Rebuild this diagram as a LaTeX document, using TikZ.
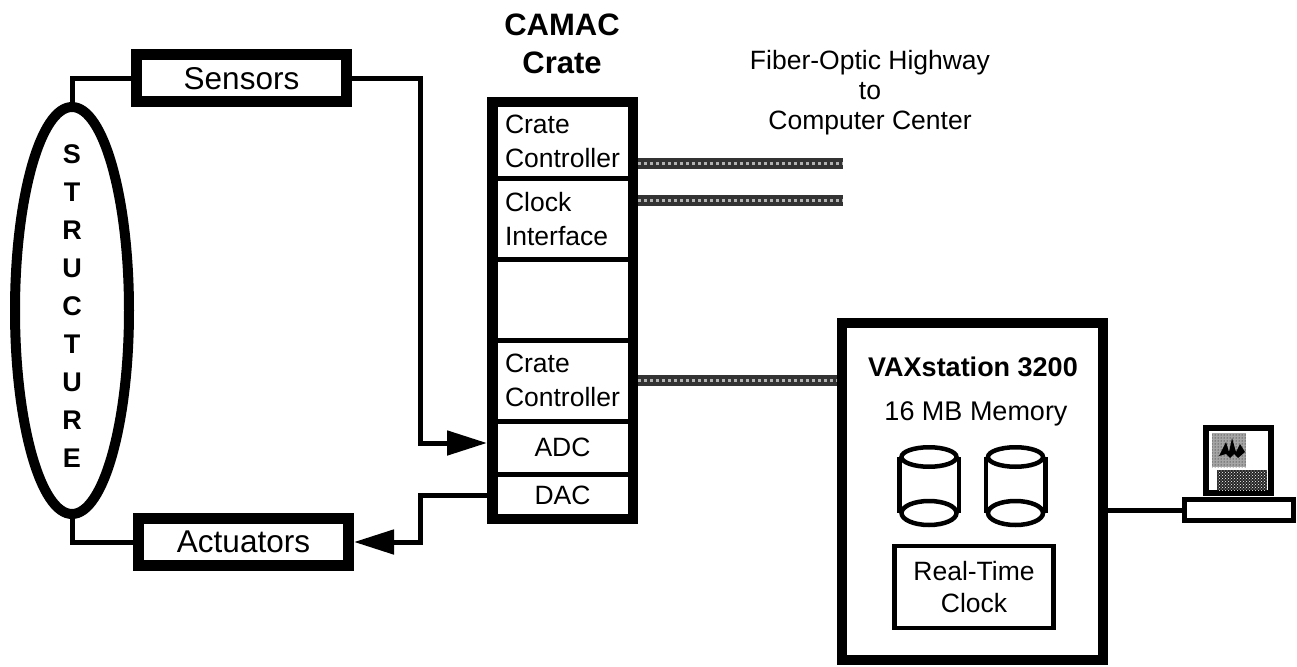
\documentclass[tikz,border=0pt]{standalone}
\usepackage{fontspec}
\setmainfont{Liberation Sans}
\usetikzlibrary{arrows.meta,positioning,shapes.geometric,patterns}

\begin{document}
\begin{tikzpicture}[
  x=1pt, y=-1pt,
  every node/.style={font=\fontsize{26.5}{34}\selectfont},
  thickbox/.style={rectangle, draw, line width=11pt, align=center, inner sep=0pt, font=\fontsize{31.5}{34}\selectfont},
  slot/.style={rectangle, draw, line width=5pt, minimum width=135pt, text width=115pt, inner xsep=10pt, inner ysep=0pt, align=left},
  wire/.style={line width=5pt},
  arr/.style={wire, -{Triangle[length=40pt,width=24pt]}},
  fiber/.style={line width=11pt, black!80, postaction={draw, black!30, line width=3pt, dash pattern=on 3pt off 3pt}},
  diskend/.style={ellipse, draw, line width=4.5pt, minimum width=55pt, inner sep=0pt},
]

\useasboundingbox (0,0) rectangle (1297,666);

% left side
\node[ellipse, draw, line width=10pt, minimum width=114pt, minimum height=407pt, inner sep=0pt] (structure) at (72, 310.5) {};
\node[font=\fontsize{27}{38}\selectfont\bfseries, align=center] (structuretext) at (72, 306.5) {S\\T\\R\\U\\C\\T\\U\\R\\E};
\node[thickbox, minimum width=210pt, minimum height=47pt] (sensors) at (241.5, 78.5) {Sensors};
\node[thickbox, minimum width=210pt, minimum height=47pt] (actuators) at (243.5, 542) {Actuators};

% crate
\node[font=\fontsize{31}{38}\selectfont\bfseries, align=center] (cratetitle) at (562, 44) {CAMAC\\Crate};
\node[rectangle, draw, line width=10pt, minimum width=141pt, minimum height=417pt, inner sep=0pt] (crate) at (562.5, 310.5) {};
\node[slot, minimum height=75pt] (ctrla) at (562.5, 141) {Crate\\Controller};
\node[slot, minimum height=81pt] (clock) at (562.5, 219) {Clock\\Interface};
\node[slot, minimum height=81pt] (blank) at (562.5, 300) {};
\node[slot, minimum height=81pt] (ctrlb) at (562.5, 380.5) {Crate\\Controller};
\node[slot, minimum height=53pt, align=center] (adc) at (562.5, 447.5) {ADC};
\node[slot, minimum height=42pt, align=center] (dac) at (562.5, 495) {DAC};

\node[align=center, font=\fontsize{26.5}{30}\selectfont] (fibertext) at (870, 93) {Fiber-Optic Highway\\to\\Computer Center};
\coordinate (fiberenda) at (843, 163);
\coordinate (fiberendb) at (843, 200);
\coordinate (adcin) at (487, 443);

% workstation
\node[rectangle, draw, line width=10pt, minimum width=261pt, minimum height=337pt, inner sep=0pt] (vax) at (972, 491.5) {};
\node[font=\fontsize{27}{32}\selectfont\bfseries] (vaxname) at (973, 367) {VAXstation 3200};
\node[font=\fontsize{27}{32}\selectfont] (memory) at (976, 414) {16 MB Memory};
\node[diskend, minimum height=19.5pt] (diskatop) at (929, 457) {};
\node[diskend, minimum height=24pt] (diskabot) at (929, 513) {};
\node[diskend, minimum height=19.5pt] (diskbtop) at (1015.5, 457) {};
\node[diskend, minimum height=24pt] (diskbbot) at (1015.5, 513) {};
\draw[line width=4.5pt] (diskatop.west) -- (diskabot.west);
\draw[line width=4.5pt] (diskatop.east) -- (diskabot.east);
\draw[line width=4.5pt] (diskbtop.west) -- (diskbbot.west);
\draw[line width=4.5pt] (diskbtop.east) -- (diskbbot.east);
\node[rectangle, draw, line width=4.5pt, minimum width=159pt, minimum height=82pt, inner sep=0pt, align=center, font=\fontsize{26.5}{32}\selectfont] (rtclock) at (974, 587) {Real-Time\\Clock};

% terminal
\node[rectangle, draw, line width=6pt, minimum width=65pt, minimum height=65pt, inner sep=0pt] (monitor) at (1238, 460) {};
\node[rectangle, draw, line width=5pt, minimum width=109pt, minimum height=21pt, inner sep=0pt] (keyboard) at (1239, 510) {};
\fill[black!35] (1212,433) rectangle (1246,467);
\fill[pattern=dots] (1212,433) rectangle (1246,467);
\fill[black!85] (1217,470) rectangle (1267,490);
\fill[pattern=crosshatch dots, pattern color=white] (1217,470) rectangle (1267,490);
\fill[black] (1219,456) -- (1226,442) -- (1229,452) -- (1232,438) -- (1236,452) -- (1240,444) -- (1245,452) -- (1238,458) -- (1234,454) -- (1230,458) -- (1226,454) -- cycle;

% connectors
\draw[wire] (structure.north) |- (sensors.west);
\draw[wire] (structure.south) |- (actuators.west);
\draw[arr] (sensors.east) -- (420, 78.5) |- (adcin);
\draw[arr] (crate.west |- dac) -- (420, 495) |- (actuators.east);
\draw[fiber] (crate.east |- fiberenda) -- (fiberenda);
\draw[fiber] (crate.east |- fiberendb) -- (fiberendb);
\draw[fiber] (crate.east |- ctrlb) -- (vax.west |- ctrlb);
\draw[wire] (vax.east |- keyboard) -- (keyboard.west);

\end{tikzpicture}
\end{document}
